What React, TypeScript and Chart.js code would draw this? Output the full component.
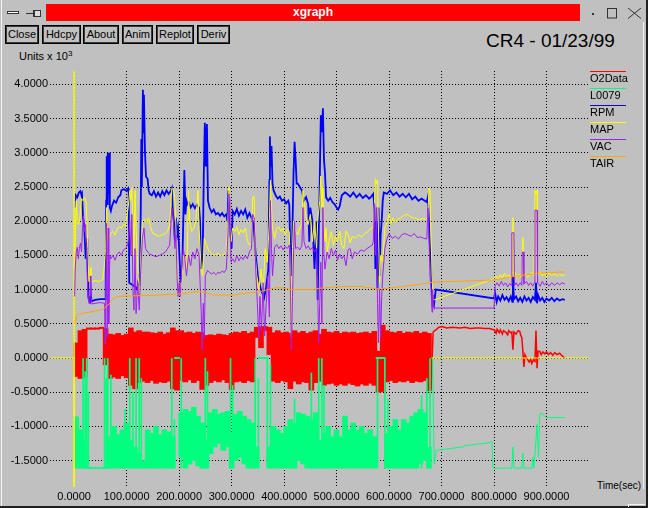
import React, { useEffect, useRef } from "react";
import { Chart, registerables } from "chart.js";

Chart.register(...registerables);

const FONT = '"Liberation Sans", Arial, Helvetica, sans-serif';

// axis bounds and ticks
const xBounds = [-46, 981];
const yBounds = [-1.886, 4.196];
const xTicks = [0, 100, 200, 300, 400, 500, 600, 700, 800, 900];
const yTicks = [-1.5, -1.0, -0.5, 0, 0.5, 1.0, 1.5, 2.0, 2.5, 3.0, 3.5, 4.0];

const seriesNames = ["O2Data", "L0079", "RPM", "MAP", "VAC", "TAIR"];
const seriesColors = ["#ff0000", "#00ff7f", "#0000ff", "#ffff00", "#a020f0", "#ffa500"];

// O2Data: dense oscillation, [time, low, high] per 8 s bucket
const o2Band = [
  [4, -0.27, 0.22], [12, -0.3, 0.4], [20, -0.28, 0.42], [28, 0.42, 0.44], [36, 0.42, 0.44],
  [44, 0.42, 0.44], [52, 0.43, 0.45], [60, -0.1, 0.43], [68, -0.3, 0.35], [76, -0.28, 0.34],
  [84, -0.3, 0.36], [92, -0.26, 0.33], [100, -0.29, 0.35], [108, -0.4, 0.44], [116, -0.45, 0.38],
  [124, -0.36, 0.4], [132, -0.34, 0.38], [140, -0.36, 0.38], [148, -0.33, 0.37], [156, -0.37, 0.36],
  [164, -0.35, 0.38], [172, -0.36, 0.35], [180, -0.34, 0.37], [188, -0.45, 0.44], [196, -0.47, 0.4],
  [204, -0.33, 0.4], [212, -0.35, 0.37], [220, -0.32, 0.38], [228, -0.36, 0.36], [236, -0.33, 0.38],
  [244, -0.46, 0.37], [252, -0.4, 0.33], [260, -0.36, 0.34], [268, -0.33, 0.33], [276, -0.35, 0.35],
  [284, -0.32, 0.34], [292, -0.36, 0.33], [300, -0.46, 0.36], [308, -0.35, 0.38], [316, -0.34, 0.37],
  [324, -0.36, 0.39], [332, -0.33, 0.36], [340, -0.35, 0.38], [348, 0.3, 0.45], [356, 0.15, 0.46],
  [364, 0.4, 0.46], [372, 0.05, 0.45], [380, -0.34, 0.37], [388, -0.36, 0.4], [396, -0.33, 0.37],
  [404, -0.35, 0.38], [412, -0.45, 0.36], [420, -0.34, 0.4], [428, -0.38, 0.37], [436, -0.35, 0.39],
  [444, -0.36, 0.36], [452, -0.47, 0.38], [460, -0.36, 0.4], [468, -0.34, 0.35], [476, -0.4, 0.42],
  [484, -0.38, 0.38], [492, -0.37, 0.37], [500, -0.4, 0.39], [508, -0.38, 0.36], [516, -0.4, 0.38],
  [524, -0.37, 0.37], [532, -0.39, 0.38], [540, -0.41, 0.36], [548, -0.38, 0.37], [556, -0.4, 0.38],
  [564, -0.37, 0.36], [572, -0.4, 0.39], [580, -0.5, 0.1], [588, -0.49, 0.48], [596, -0.35, 0.4],
  [604, -0.33, 0.38], [612, -0.36, 0.37], [620, -0.34, 0.39], [628, -0.35, 0.36], [636, -0.33, 0.38],
  [644, -0.36, 0.37], [652, -0.34, 0.39], [660, -0.35, 0.36], [668, -0.33, 0.38], [676, -0.48, 0.36],
];
const o2Tail = [
  [680, -0.45], [684, 0.38], [689, 0.41], [695, 0.45], [701, 0.46], [710, 0.44], [720, 0.45], [735, 0.44],
  [745, 0.45], [754, 0.43], [765, 0.44], [773, 0.44], [782, 0.43], [792, 0.43], [796, 0.42], [801, 0.41],
  [804, 0.36], [806, 0.42], [810, 0.37], [812, 0.41], [816, 0.35], [818, 0.4], [822, 0.38], [826, 0.34],
  [828, 0.4], [832, 0.37], [834, 0.38], [836, 0.12], [838, 0.38], [842, 0.35], [846, 0.4], [849, 0.39],
  [851, 0.33], [853, 0.3], [855, 0.1], [857, -0.13], [859, 0.05], [862, 0.0], [864, -0.02], [867, -0.06],
  [870, -0.02], [872, -0.08], [875, -0.03], [878, -0.05], [880, 0.4], [882, -0.15], [884, 0.1], [887, 0.1],
  [890, 0.05], [893, 0.09], [897, 0.06], [900, 0.09], [904, 0.05], [908, 0.08], [912, 0.04], [916, 0.08],
  [920, 0.05], [925, 0.07], [930, 0.03], [935, 0.0],
];

// L0079: dense band [time, low, high], spikes [time, top], tail line
const l0079Band = [
  [4, -1.61, -0.86], [12, -1.61, -1.05], [20, -1.61, -1.2], [28, -1.615, -1.6], [36, -1.615, -1.6],
  [44, -1.615, -1.6], [52, -1.615, -1.6], [60, -1.615, -1.6], [68, -1.61, -1.15], [76, -1.61, -1.0],
  [84, -1.61, -1.12], [92, -1.61, -1.05], [100, -1.61, -0.95], [108, -1.61, -1.2], [116, -1.61, -1.3],
  [124, -1.61, -1.4], [132, -1.61, -1.5], [140, -1.61, -1.05], [148, -1.61, -1.1], [156, -1.61, -1.0],
  [164, -1.61, -1.12], [172, -1.61, -1.05], [180, -1.61, -1.08], [188, -1.61, -1.15], [196, -0.01, 0.01],
  [204, -1.45, -0.8], [212, -1.61, -0.75], [220, -1.55, -0.78], [228, -1.5, -0.72], [236, -1.58, -0.85],
  [244, -1.61, -0.95], [252, -1.61, -1.2], [260, -1.4, -0.8], [268, -1.3, -0.75], [276, -1.25, -0.82],
  [284, -1.35, -0.8], [292, -1.3, -0.78], [300, -1.61, -1.1], [308, -1.5, -0.82], [316, -1.45, -0.78],
  [324, -1.55, -0.85], [332, -1.61, -0.9], [340, -1.61, -0.95], [348, -1.61, -1.3], [356, -0.01, 0.01],
  [364, -0.01, 0.01], [372, -1.61, -1.3], [380, -1.61, -1.0], [388, -1.61, -1.05], [396, -1.61, -1.1],
  [404, -1.61, -1.0], [412, -1.61, -0.9], [420, -1.61, -0.95], [428, -1.5, -0.8], [436, -1.55, -0.82],
  [444, -1.61, -0.85], [452, -1.61, -0.9], [460, -1.61, -0.8], [468, -1.61, -1.2], [476, -1.61, -1.1],
  [484, -1.61, -1.0], [492, -1.61, -1.15], [500, -1.61, -1.05], [508, -1.61, -1.15], [516, -1.61, -0.85],
  [524, -1.61, -1.05], [532, -1.61, -0.95], [540, -1.61, -1.05], [548, -1.61, -1.0], [556, -1.61, -1.1],
  [564, -1.61, -1.05], [572, -1.61, -1.15], [580, -0.01, 0.01], [588, -0.01, 0.01], [596, -1.61, -1.1],
  [604, -1.61, -1.0], [612, -1.61, -0.9], [620, -1.61, -1.05], [628, -1.61, -0.9], [636, -1.61, -0.95],
  [644, -1.61, -0.85], [652, -1.61, -0.8], [660, -1.55, -0.75], [668, -1.5, -0.8], [676, -1.61, -1.3],
];
const l0079Floor = -1.61;
const l0079Spikes = [
  [17, 0.0], [21, -0.2], [24, 0.0], [27, -0.5], [58, 0.0], [61, -0.3], [64, 0.0], [70, -0.25], [97, -0.75],
  [106, 0.0], [112, -0.5], [118, 0.0], [124, 0.0], [128, -0.3], [186, 0.0], [191, -0.9], [204, 0.0],
  [250, 0.0], [254, -0.2], [298, 0.0], [302, -0.4], [345, 0.0], [351, -0.3], [368, 0.0], [374, -0.1],
  [420, -0.6], [452, -0.22], [466, 0.0], [472, 0.0], [476, -0.4], [578, 0.0], [592, 0.0], [598, -0.6],
  [662, -0.55], [672, -0.3], [678, 0.0],
];
const l0079Tail = [
  [680, 0.0], [683, 0.0], [686, -1.55], [690, -1.35], [740, -1.3], [745, -1.28], [790, -1.24], [796, -1.22],
  [798, -1.61], [834, -1.61], [836, -1.3], [838, -1.61], [853, -1.61], [855, -1.39], [857, -1.61],
  [872, -1.61], [874, -1.45], [876, -1.61], [880, -1.2], [882, -0.97], [885, -1.45], [887, -0.85],
  [889, -0.8], [895, -0.84], [900, -0.87], [935, -0.87],
];

// RPM
const rpm = [
  [1, 2.2], [3, 2.38], [6, 2.35], [9, 2.42], [12, 2.44], [14, 2.38], [15, 2.4], [17, 2.05], [19, 1.95],
  [22, 1.45], [25, 1.75], [27, 0.9], [28, 0.85], [30, 0.82], [32, 0.93], [33, 0.83], [40, 0.85], [50, 0.86],
  [58, 0.86], [60, 0.86], [61, 2.3], [62, 2.95], [63, 2.25], [64, 3.0], [65, 2.4], [67, 3.0], [68, 2.2],
  [70, 2.15], [72, 2.22], [76, 2.3], [80, 2.27], [84, 2.35], [88, 2.38], [90, 2.45], [95, 2.47], [100, 2.44],
  [103, 2.48], [104, 2.45], [105, 1.1], [115, 1.05], [120, 1.0], [123, 1.15], [125, 1.05], [127, 2.2],
  [128, 3.2], [129, 2.5], [131, 3.92], [132, 3.3], [133, 3.85], [135, 3.0], [137, 2.65], [140, 2.62],
  [142, 2.45], [144, 2.4], [148, 2.38], [152, 2.44], [156, 2.36], [160, 2.42], [164, 2.36], [168, 2.44],
  [172, 2.38], [176, 2.45], [180, 2.4], [184, 2.44], [186, 2.48], [188, 2.15], [190, 2.0], [192, 1.7],
  [194, 2.05], [196, 1.8], [198, 1.9], [200, 1.6], [203, 1.1], [206, 1.3], [210, 2.75], [212, 2.1],
  [214, 2.3], [216, 2.25], [218, 2.28], [222, 2.2], [226, 2.25], [230, 2.19], [234, 2.24], [238, 2.2],
  [240, 2.0], [242, 1.3], [245, 1.5], [247, 2.65], [249, 3.44], [251, 2.8], [253, 3.42], [255, 2.3],
  [258, 2.2], [262, 2.13], [266, 2.17], [270, 2.1], [274, 2.12], [278, 2.08], [282, 2.12], [286, 2.07],
  [290, 2.1], [292, 2.0], [294, 2.45], [296, 2.3], [298, 1.8], [300, 1.6], [302, 2.15], [306, 2.1],
  [310, 2.18], [314, 2.08], [318, 2.15], [322, 2.1], [326, 2.17], [330, 2.05], [334, 2.12], [338, 2.05],
  [342, 1.95], [346, 1.5], [350, 1.2], [356, 1.0], [362, 0.88], [366, 1.05], [370, 1.3], [372, 2.6],
  [373, 3.24], [374, 2.8], [376, 3.1], [378, 2.55], [380, 2.45], [384, 2.38], [388, 2.33], [392, 2.36],
  [396, 2.3], [400, 2.32], [404, 2.26], [408, 2.3], [410, 2.24], [412, 1.5], [414, 1.2], [416, 1.9],
  [418, 2.7], [420, 3.16], [422, 2.9], [424, 2.55], [426, 2.55], [430, 2.5], [434, 2.45], [438, 2.3],
  [442, 2.35], [446, 2.25], [448, 1.7], [450, 2.2], [454, 2.0], [458, 1.3], [462, 2.0], [464, 0.85],
  [466, 1.8], [468, 2.6], [470, 3.55], [472, 3.3], [474, 3.65], [476, 2.9], [478, 2.7], [480, 2.35],
  [484, 2.3], [488, 2.34], [492, 2.28], [496, 2.25], [500, 2.2], [503, 2.17], [506, 2.22], [510, 2.38],
  [516, 2.42], [520, 2.4], [526, 2.36], [532, 2.42], [538, 2.35], [544, 2.4], [550, 2.34], [556, 2.38],
  [562, 2.33], [566, 2.36], [570, 2.4], [572, 2.2], [574, 1.3], [576, 2.0], [578, 1.0], [580, 2.2],
  [582, 1.2], [584, 1.8], [586, 2.0], [588, 2.3], [590, 2.42], [596, 2.4], [602, 2.45], [608, 2.38],
  [614, 2.42], [620, 2.36], [626, 2.4], [632, 2.35], [638, 2.4], [644, 2.32], [650, 2.36], [656, 2.3],
  [662, 2.33], [668, 2.3], [672, 2.28], [674, 2.35], [676, 2.0], [678, 1.62], [680, 1.4], [682, 0.9],
  [683, 0.75], [684, 0.92], [686, 0.8], [689, 1.0], [800, 0.87], [802, 0.95], [805, 0.82], [808, 0.9],
  [812, 0.84], [816, 0.92], [820, 0.85], [824, 0.89], [828, 0.83], [832, 0.9], [835, 0.82], [836, 1.2],
  [838, 0.86], [842, 0.9], [846, 0.83], [850, 0.88], [854, 0.82], [858, 0.9], [862, 0.84], [866, 0.88],
  [870, 0.82], [874, 0.89], [878, 0.85], [880, 1.1], [882, 0.8], [884, 0.92], [888, 0.84], [892, 0.88],
  [896, 0.82], [900, 0.87], [905, 0.84], [910, 0.88], [915, 0.83], [920, 0.87], [925, 0.84], [930, 0.86],
  [935, 0.85],
];

// MAP
const map = [
  [1, 1.3], [2, 1.7], [4, 2.3], [6, 2.0], [8, 1.95], [11, 2.05], [14, 2.33], [17, 2.3], [20, 2.35],
  [23, 2.28], [26, 1.6], [28, 1.12], [30, 1.12], [31, 1.32], [32, 1.11], [40, 1.13], [48, 1.12], [55, 1.15],
  [58, 1.4], [60, 1.6], [62, 2.2], [64, 1.7], [66, 1.75], [70, 1.82], [74, 1.85], [78, 1.8], [82, 1.88],
  [86, 1.92], [90, 1.9], [94, 1.95], [98, 1.94], [100, 2.05], [103, 2.2], [106, 2.45], [108, 2.3], [110, 2.5],
  [112, 2.0], [114, 1.5], [116, 2.45], [118, 1.9], [122, 1.2], [125, 0.95], [127, 1.5], [130, 2.0],
  [134, 2.03], [138, 1.98], [142, 2.05], [146, 1.9], [150, 1.82], [156, 1.8], [162, 1.78], [168, 1.8],
  [174, 1.82], [178, 1.85], [182, 1.95], [184, 2.2], [186, 2.48], [190, 2.45], [192, 2.3], [194, 1.9],
  [196, 1.2], [200, 0.95], [204, 1.05], [206, 1.2], [208, 1.5], [212, 1.45], [215, 1.3], [218, 2.45],
  [220, 2.0], [224, 1.85], [228, 1.9], [232, 2.0], [236, 2.45], [238, 1.9], [242, 1.3], [245, 1.2],
  [248, 1.75], [252, 1.65], [256, 1.58], [262, 1.52], [268, 1.5], [274, 1.53], [280, 1.49], [286, 1.52],
  [290, 1.55], [293, 2.0], [295, 2.5], [297, 2.2], [299, 1.7], [302, 1.9], [306, 1.85], [310, 1.92],
  [314, 1.8], [318, 1.88], [322, 1.83], [326, 1.9], [330, 1.72], [334, 1.65], [338, 1.68], [340, 2.35],
  [343, 2.36], [345, 1.5], [348, 1.2], [352, 1.0], [356, 1.3], [360, 0.95], [364, 1.6], [368, 1.4],
  [372, 2.0], [374, 2.6], [376, 2.2], [378, 1.9], [382, 1.75], [386, 1.9], [390, 1.92], [394, 1.85],
  [398, 1.9], [402, 1.8], [406, 1.88], [410, 1.85], [412, 1.2], [414, 0.3], [416, 1.6], [418, 2.0],
  [422, 1.85], [426, 1.8], [430, 1.9], [434, 1.95], [436, 2.45], [438, 2.3], [442, 2.05], [446, 1.95],
  [450, 2.1], [454, 1.7], [458, 2.0], [462, 1.6], [464, 2.0], [468, 2.3], [470, 2.66], [472, 2.2],
  [474, 2.5], [476, 1.9], [478, 1.7], [480, 1.9], [482, 1.55], [486, 1.72], [490, 1.85], [494, 1.65],
  [498, 1.78], [502, 1.7], [506, 1.85], [510, 1.64], [514, 1.6], [518, 1.86], [522, 1.8], [526, 1.68],
  [530, 1.78], [536, 1.75], [542, 1.8], [548, 1.77], [554, 1.82], [560, 1.85], [566, 1.9], [570, 1.92],
  [572, 2.2], [574, 2.62], [576, 2.55], [578, 2.6], [580, 1.8], [582, 1.1], [584, 1.5], [588, 1.4],
  [592, 1.9], [596, 1.98], [600, 2.1], [604, 1.97], [608, 2.05], [612, 1.98], [616, 2.02], [622, 2.05],
  [628, 2.08], [634, 2.1], [640, 2.07], [646, 2.05], [652, 2.04], [658, 2.02], [664, 2.04], [670, 2.03],
  [674, 2.05], [676, 2.48], [678, 2.45], [680, 1.8], [682, 1.2], [684, 0.85], [686, 0.85], [800, 1.16],
  [804, 1.2], [808, 1.15], [812, 1.22], [816, 1.17], [820, 1.24], [824, 1.18], [828, 1.22], [832, 1.16],
  [835, 1.25], [836, 2.05], [837, 1.2], [840, 1.25], [844, 1.18], [848, 1.22], [852, 1.17], [854, 1.3],
  [855, 1.76], [856, 1.2], [860, 1.24], [864, 1.18], [868, 1.22], [872, 1.25], [876, 1.2], [878, 2.45],
  [880, 2.4], [882, 2.45], [883, 1.2], [888, 1.26], [892, 1.2], [896, 1.24], [900, 1.18], [905, 1.25],
  [910, 1.2], [915, 1.24], [920, 1.19], [925, 1.23], [930, 1.2], [935, 1.22],
];
const mapGuide = [[-46, 0], [0, 0], [0, 4.196], [0, -1.886]];
const mapZeroTail = [[682, 0], [981, 0]];

// VAC
const vac = [
  [1, 0.9], [2, 1.3], [4, 1.55], [6, 1.62], [8, 1.45], [10, 1.6], [12, 1.68], [14, 1.55], [16, 1.9],
  [18, 2.08], [20, 1.85], [22, 1.95], [24, 1.4], [26, 1.0], [28, 0.8], [30, 0.8], [31, 1.2], [32, 0.9],
  [34, 0.79], [40, 0.8], [50, 0.81], [58, 0.8], [59, 0.2], [60, 1.0], [62, 1.97], [63, 0.3], [65, 1.9],
  [66, 0.5], [68, 1.5], [70, 1.45], [74, 1.5], [78, 1.43], [82, 1.52], [86, 1.55], [90, 1.5], [94, 1.58],
  [98, 1.6], [100, 1.62], [103, 1.7], [106, 2.0], [108, 1.5], [110, 2.1], [112, 1.0], [114, 0.7], [116, 1.6],
  [118, 0.65], [121, 1.1], [124, 0.7], [127, 1.3], [130, 1.75], [133, 1.9], [136, 1.6], [140, 1.55],
  [144, 1.52], [150, 1.5], [156, 1.48], [162, 1.5], [168, 1.52], [174, 1.55], [178, 1.6], [182, 1.65],
  [184, 1.9], [186, 2.2], [188, 2.15], [190, 1.9], [192, 1.6], [194, 1.8], [196, 1.2], [198, 0.9],
  [200, 1.1], [202, 0.9], [205, 1.3], [208, 1.6], [211, 1.45], [214, 1.2], [218, 1.5], [222, 1.35],
  [226, 1.55], [230, 1.45], [234, 1.6], [238, 1.5], [242, 0.7], [244, 0.12], [246, 0.8], [248, 0.3],
  [250, 1.2], [254, 1.28], [258, 1.25], [262, 1.23], [266, 1.25], [270, 1.22], [274, 1.25], [278, 1.24],
  [282, 1.27], [286, 1.25], [290, 1.3], [293, 1.8], [295, 2.4], [297, 2.1], [299, 1.4], [302, 1.45],
  [306, 1.4], [310, 1.5], [314, 1.42], [318, 1.48], [322, 1.44], [326, 1.5], [330, 1.45], [334, 1.55],
  [338, 1.6], [340, 2.1], [343, 2.05], [346, 1.3], [349, 0.8], [352, 0.3], [354, 0.9], [357, 0.4],
  [360, 1.1], [363, 0.32], [366, 0.8], [369, 1.2], [372, 0.6], [374, 2.3], [376, 1.6], [378, 1.2],
  [382, 1.62], [386, 1.66], [390, 1.6], [394, 1.64], [398, 1.58], [402, 1.63], [406, 1.6], [410, 1.65],
  [412, 1.1], [414, 0.12], [416, 0.9], [418, 1.5], [420, 2.0], [422, 1.6], [426, 1.62], [430, 1.58],
  [434, 1.65], [436, 2.2], [438, 1.7], [442, 1.6], [446, 1.64], [450, 1.58], [454, 1.62], [458, 1.55],
  [462, 1.6], [464, 1.0], [466, 0.22], [468, 0.8], [470, 1.4], [472, 0.5], [474, 2.2], [476, 1.5],
  [478, 1.3], [482, 1.55], [486, 1.45], [490, 1.6], [494, 1.5], [498, 1.58], [502, 1.43], [506, 1.52],
  [510, 1.45], [514, 1.5], [518, 1.35], [522, 1.58], [526, 1.6], [530, 1.45], [534, 1.55], [540, 1.52],
  [546, 1.58], [552, 1.56], [558, 1.6], [564, 1.63], [568, 1.65], [570, 1.7], [572, 2.26], [574, 1.5],
  [576, 2.2], [578, 0.8], [580, 0.22], [582, 1.0], [584, 0.3], [586, 0.9], [588, 1.2], [592, 1.6],
  [596, 1.74], [600, 1.82], [606, 1.75], [612, 1.78], [618, 1.74], [624, 1.8], [630, 1.82], [636, 1.8],
  [642, 1.78], [648, 1.82], [654, 1.76], [660, 1.77], [666, 1.75], [672, 1.74], [674, 2.19], [676, 1.8],
  [678, 1.2], [680, 1.0], [682, 0.67], [683, 1.0], [685, 0.73], [800, 0.73], [802, 1.05], [806, 1.1],
  [810, 1.05], [814, 1.12], [818, 1.06], [822, 1.1], [826, 1.04], [830, 1.09], [833, 1.06], [834, 1.83],
  [838, 1.83], [839, 1.06], [842, 1.1], [846, 1.05], [850, 1.1], [853, 1.06], [854, 1.55], [856, 1.55],
  [857, 1.08], [862, 1.12], [866, 1.06], [870, 1.1], [874, 1.05], [877, 1.1], [878, 2.16], [882, 2.16],
  [883, 1.1], [888, 1.05], [892, 1.12], [896, 1.07], [900, 1.1], [905, 1.05], [910, 1.1], [915, 1.06],
  [920, 1.1], [925, 1.07], [930, 1.1], [935, 1.08],
];

// TAIR
const tair = [
  [1, 0.5], [4, 0.6], [10, 0.65], [30, 0.67], [55, 0.71], [62, 0.76], [68, 0.8], [74, 0.87], [82, 0.9],
  [120, 0.91], [163, 0.92], [208, 0.94], [233, 0.97], [250, 0.96], [265, 0.92], [303, 0.92], [329, 0.95],
  [354, 0.97], [370, 1.0], [386, 1.03], [400, 1.02], [417, 1.0], [455, 1.0], [468, 1.02], [500, 1.04],
  [544, 1.05], [577, 1.01], [600, 1.02], [630, 1.05], [660, 1.08], [684, 1.11], [800, 1.14], [836, 1.19],
  [887, 1.24], [935, 1.26],
];

const buttons = ["Close", "Hdcpy", "About", "Anim", "Replot", "Deriv"];
const buttonBoxes = [[5, 34], [42, 39], [83, 36], [122, 31], [156, 38], [197, 33]];

const toXY = (pts: number[][]) => pts.map(([x, y]) => ({ x, y }));
const toBars = (rows: number[][]) => rows.map(([x, lo, hi]) => ({ x, y: [lo, hi] }));

export default function App() {
  const ref = useRef<HTMLCanvasElement | null>(null);

  useEffect(() => {
    const canvas = ref.current;
    if (!canvas) return;
    const font = { family: FONT, size: 11 };
    const line = (data: any[], color: string, order: number, width = 1) => ({
      type: "line",
      data,
      borderColor: color,
      backgroundColor: color,
      borderWidth: width,
      pointRadius: 0,
      tension: 0,
      fill: false,
      order,
    });
    const bars = (data: any[], color: string, order: number, thickness: number) => ({
      type: "bar",
      data,
      backgroundColor: color,
      borderWidth: 0,
      barThickness: thickness,
      grouped: false,
      minBarLength: 1,
      order,
    });
    const chart = new Chart(canvas, {
      type: "line",
      data: {
        datasets: [
          line(toXY(tair), seriesColors[5], 1),
          line(toXY(vac), seriesColors[4], 2),
          line(toXY(map), seriesColors[3], 3),
          line(toXY(mapGuide), seriesColors[3], 3),
          line(toXY(mapZeroTail), seriesColors[3], 3),
          line(toXY(rpm), seriesColors[2], 4, 1.8),
          bars(l0079Spikes.map(([x, top]) => ({ x, y: [l0079Floor, top] })), seriesColors[1], 5, 1),
          bars(toBars(l0079Band), seriesColors[1], 5, 5),
          line(toXY(l0079Tail), seriesColors[1], 5),
          bars(toBars(o2Band), seriesColors[0], 6, 5),
          line(toXY(o2Tail), seriesColors[0], 6, 1.5),
        ] as any,
      },
      options: {
        responsive: false,
        animation: false,
        devicePixelRatio: 1,
        events: [],
        layout: { padding: { left: 0, right: 59, top: 71, bottom: 0 } },
        plugins: {
          legend: { display: false },
          tooltip: { enabled: false },
          title: { display: false },
        },
        scales: {
          x: {
            type: "linear",
            min: xBounds[0],
            max: xBounds[1],
            offset: false,
            afterBuildTicks: (s: any) => {
              s.ticks = xTicks.map((value) => ({ value }));
            },
            afterFit: (s: any) => {
              s.height = 21;
            },
            grid: { color: "#000", lineWidth: 1, drawTicks: false, offset: false },
            border: { display: false, dash: [1, 2] },
            ticks: {
              autoSkip: false,
              maxRotation: 0,
              minRotation: 0,
              padding: 3,
              color: "#000",
              font,
              callback: (v: any) => Number(v).toFixed(4),
            },
          },
          y: {
            type: "linear",
            min: yBounds[0],
            max: yBounds[1],
            afterBuildTicks: (s: any) => {
              s.ticks = yTicks.map((value) => ({ value }));
            },
            afterFit: (s: any) => {
              s.width = 50;
            },
            grid: { color: "#000", lineWidth: 1, drawTicks: false },
            border: { display: false, dash: [1, 2] },
            ticks: {
              padding: 2,
              color: "#000",
              font,
              callback: (v: any) => Number(v).toFixed(4),
            },
          },
        },
      } as any,
    });
    return () => chart.destroy();
  }, []);

  const abs = (s: React.CSSProperties): React.CSSProperties => ({ position: "absolute", ...s });

  return (
    <div
      style={{
        position: "fixed",
        left: 0,
        top: 0,
        width: 648,
        height: 508,
        background: "#c0c0c0",
        overflow: "hidden",
        fontFamily: FONT,
        color: "#000",
      }}
    >
      {/* window frame */}
      <div style={abs({ left: 1, top: 0, width: 1, height: 508, background: "#f4f4f4" })} />
      <div style={abs({ left: 643, top: 22, width: 1, height: 467, background: "#f4f4f4" })} />
      <div style={abs({ left: 646, top: 0, width: 2, height: 508, background: "#202020" })} />
      <div style={abs({ left: 0, top: 506, width: 648, height: 2, background: "#202020" })} />
      <div style={abs({ left: 628, top: 504, width: 17, height: 1, background: "#f4f4f4" })} />
      <div style={abs({ left: 628, top: 504, width: 1, height: 3, background: "#f4f4f4" })} />

      {/* title bar */}
      <div
        style={abs({
          left: 46,
          top: 4,
          width: 534,
          height: 17,
          background: "#ff0000",
          color: "#fff",
          fontWeight: "bold",
          fontSize: 12,
          lineHeight: "17px",
          textAlign: "center",
        })}
      >
        xgraph
      </div>
      <svg style={abs({ left: 0, top: 0 })} width={648} height={24}>
        <rect x={7.5} y={11.5} width={11} height={2} fill="#fff" stroke="#333" />
        <line x1={26} y1={13.5} x2={33} y2={13.5} stroke="#333" />
        <line x1={33.5} y1={10} x2={33.5} y2={17} stroke="#333" />
        <rect x={34.5} y={10.5} width={6} height={6} fill="#ddd" stroke="#333" />
        <rect x={592} y={13} width={2} height={2} fill="#333" />
        <rect x={607.5} y={8.5} width={9} height={9.5} fill="none" stroke="#333" />
        <line x1={628} y1={8} x2={641} y2={18.5} stroke="#333" />
        <line x1={641} y1={8} x2={628} y2={18.5} stroke="#333" />
      </svg>

      {/* buttons */}
      {buttons.map((b, i) => (
        <div
          key={b}
          style={abs({
            left: buttonBoxes[i][0],
            top: 25,
            width: buttonBoxes[i][1],
            height: 19,
            boxSizing: "border-box",
            border: "1px solid #000",
            boxShadow: "inset 0 0 0 1px #3a3a3a",
            fontSize: 11,
            lineHeight: "17px",
            textAlign: "center",
          })}
        >
          {b}
        </div>
      ))}

      {/* title */}
      <div style={abs({ left: 486, top: 31, fontSize: 19, lineHeight: "19px", whiteSpace: "nowrap" })}>
        CR4 - 01/23/99
      </div>

      {/* y units */}
      <div style={abs({ left: 19, top: 50, fontSize: 11, lineHeight: "13px", whiteSpace: "nowrap" })}>
        Units x 10
        <span style={{ fontSize: 8, position: "relative", top: -4 }}>3</span>
      </div>

      {/* x units */}
      <div style={abs({ left: 597, top: 480, fontSize: 10, lineHeight: "12px", whiteSpace: "nowrap" })}>
        Time(sec)
      </div>

      <canvas
        ref={ref}
        width={648}
        height={508}
        style={abs({ left: 0, top: 0, width: 648, height: 508 })}
      />

      {/* legend */}
      {seriesNames.map((n, i) => (
        <React.Fragment key={n}>
          <div style={abs({ left: 590, top: 71 + 17 * i, width: 36, height: 1, background: seriesColors[i] })} />
          <div style={abs({ left: 590, top: 72 + 17 * i, fontSize: 11, lineHeight: "13px", whiteSpace: "nowrap" })}>
            {n}
          </div>
        </React.Fragment>
      ))}
    </div>
  );
}
